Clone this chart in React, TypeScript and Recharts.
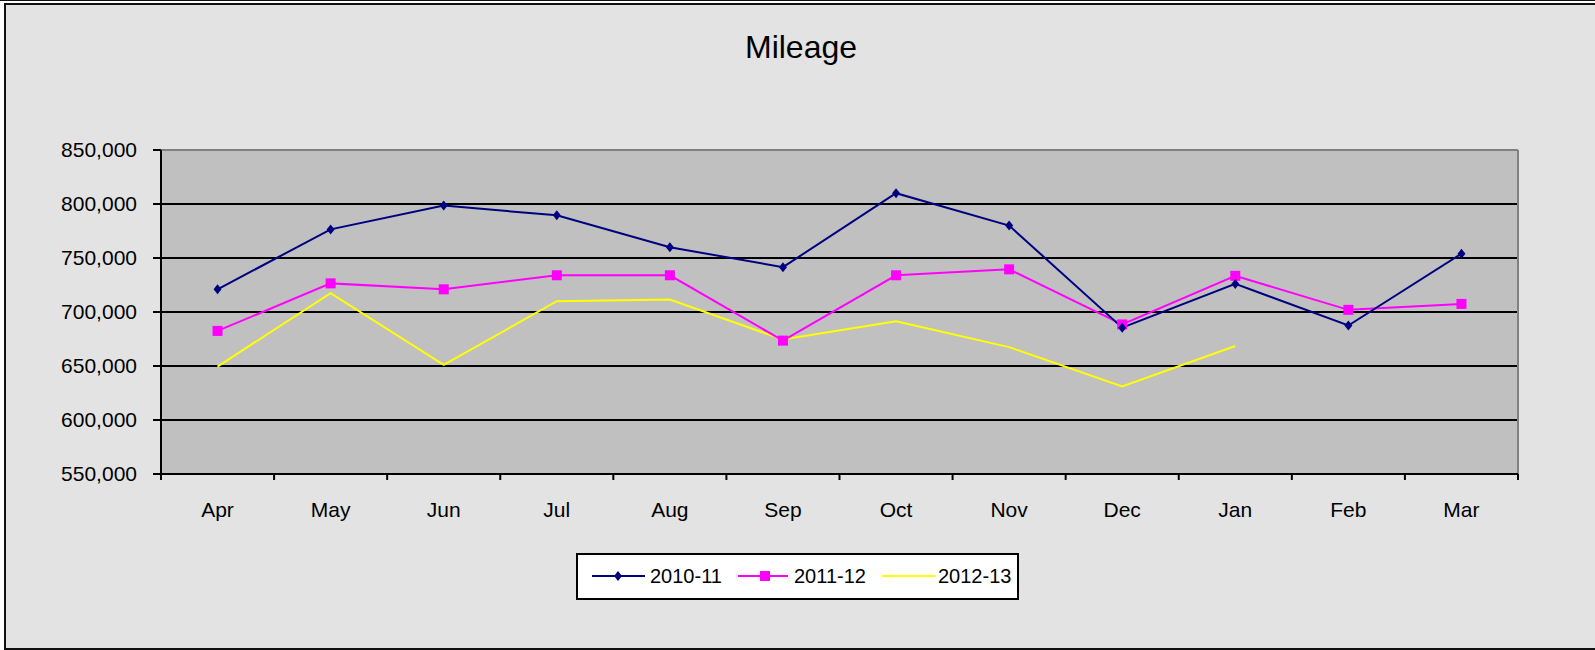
import React from "react";
import { LineChart, Line, XAxis, YAxis, CartesianGrid, ReferenceLine } from "recharts";

const months = ["Apr", "May", "Jun", "Jul", "Aug", "Sep", "Oct", "Nov", "Dec", "Jan", "Feb", "Mar"];
const mileage1011 = [721000, 776500, 798500, 789500, 760000, 741500, 810000, 780000, 685500, 726000, 687500, 754000];
const mileage1112 = [682500, 726500, 721000, 734000, 734000, 673500, 734000, 739500, 688500, 733500, 702000, 707500];
const mileage1213 = [649500, 717500, 651000, 710000, 711500, 674500, 691500, 667500, 631000, 668500, null, null];
const yTicks = [550000, 600000, 650000, 700000, 750000, 800000, 850000];

const data = months.map((month, i) => ({
  month,
  s1011: mileage1011[i],
  s1112: mileage1112[i],
  s1213: mileage1213[i],
}));

const FONT = '"Liberation Sans", Arial, sans-serif';
const NAVY = "#000080";
const PINK = "#FF00FF";
const YELLOW = "#FFFF00";

const fmt = (v: number) => v.toLocaleString("en-US");

const Diamond = (props: any) => {
  const { cx, cy, index } = props;
  if (cx == null || cy == null) return <g key={`d-${index}`} />;
  return (
    <polygon
      key={`d-${index}`}
      points={`${cx},${cy - 5} ${cx + 4},${cy} ${cx},${cy + 5} ${cx - 4},${cy}`}
      fill={NAVY}
    />
  );
};

const Square = (props: any) => {
  const { cx, cy, index } = props;
  if (cx == null || cy == null) return <g key={`s-${index}`} />;
  return <rect key={`s-${index}`} x={cx - 5} y={cy - 5} width={10} height={10} fill={PINK} />;
};

// Excel puts the tick marks between categories: draw them at the band edges
const MonthTick = (props: any) => {
  const { x, y, payload, index, width, visibleTicksCount } = props;
  const half = width / visibleTicksCount / 2;
  const last = index === visibleTicksCount - 1;
  return (
    <g>
      <line x1={x - half} y1={y - 6} x2={x - half} y2={y} stroke="#000" strokeWidth={2} />
      {last && <line x1={x + half} y1={y - 6} x2={x + half} y2={y} stroke="#000" strokeWidth={2} />}
      <text x={x} y={y + 22} dy="0.71em" textAnchor="middle" fontSize={21} fontFamily={FONT} fill="#000">
        {payload.value}
      </text>
    </g>
  );
};

export default function App() {
  return (
    <div style={{ position: "absolute", left: 0, top: 0, width: 1595, height: 650, overflow: "hidden", background: "#fff" }}>
      <div style={{ position: "absolute", left: 0, top: 0, width: 1595, height: 1, background: "#111" }} />
      <div
        style={{
          position: "absolute",
          left: 4,
          top: 3,
          width: 1600,
          height: 647,
          boxSizing: "border-box",
          borderLeft: "2px solid #111",
          borderTop: "2px solid #111",
          borderBottom: "2px solid #111",
          background: "#E3E3E3",
        }}
      />
      <div style={{ position: "absolute", left: 0, top: 0 }}>
        <LineChart width={1595} height={650} data={data} margin={{ top: 150, right: 77, bottom: 0, left: 0 }}>
          <CartesianGrid vertical={false} fill="#C0C0C0" fillOpacity={1} stroke="#000" strokeWidth={2} />
          <CartesianGrid
            horizontal={false}
            stroke="#808080"
            strokeWidth={2}
            verticalCoordinatesGenerator={({ offset }: any) => [offset.left + offset.width]}
          />
          <XAxis
            dataKey="month"
            scale="band"
            interval={0}
            height={176}
            axisLine={{ stroke: "#000", strokeWidth: 2 }}
            tickLine={false}
            tickSize={6}
            tickMargin={0}
            tick={MonthTick}
          />
          <YAxis
            type="number"
            domain={[550000, 850000]}
            ticks={yTicks}
            interval={0}
            width={161}
            tickFormatter={fmt}
            tickSize={8}
            tickMargin={16}
            tick={{ fill: "#000", fontSize: 21, fontFamily: FONT }}
            tickLine={{ stroke: "#000", strokeWidth: 2 }}
            axisLine={{ stroke: "#000", strokeWidth: 2 }}
          />
          <ReferenceLine y={850000} stroke="#808080" strokeWidth={2} />
          <Line
            dataKey="s1213"
            name="2012-13"
            stroke={YELLOW}
            strokeWidth={2}
            dot={false}
            isAnimationActive={false}
          />
          <Line
            dataKey="s1112"
            name="2011-12"
            stroke={PINK}
            strokeWidth={2}
            dot={Square}
            activeDot={false}
            isAnimationActive={false}
          />
          <Line
            dataKey="s1011"
            name="2010-11"
            stroke={NAVY}
            strokeWidth={2}
            dot={Diamond}
            activeDot={false}
            isAnimationActive={false}
          />
        </LineChart>
      </div>
      <svg
        width={1595}
        height={650}
        style={{ position: "absolute", left: 0, top: 0, pointerEvents: "none" }}
        fontFamily={FONT}
      >
        <text x={801} y={58} textAnchor="middle" fontSize={32} fill="#000">
          Mileage
        </text>
        <rect x={577} y={554} width={441} height={45} fill="#fff" stroke="#000" strokeWidth={2} />
        <line x1={592} y1={576} x2={645} y2={576} stroke={NAVY} strokeWidth={2} />
        <polygon points="618,571 622,576 618,581 614,576" fill={NAVY} />
        <text x={650} y={583} fontSize={20} fill="#000">2010-11</text>
        <line x1={738} y1={576} x2={788} y2={576} stroke={PINK} strokeWidth={2} />
        <rect x={760} y={571} width={10} height={10} fill={PINK} />
        <text x={794} y={583} fontSize={20} fill="#000">2011-12</text>
        <line x1={882} y1={576} x2={935} y2={576} stroke={YELLOW} strokeWidth={2} />
        <text x={938} y={583} fontSize={20} fill="#000">2012-13</text>
      </svg>
    </div>
  );
}
